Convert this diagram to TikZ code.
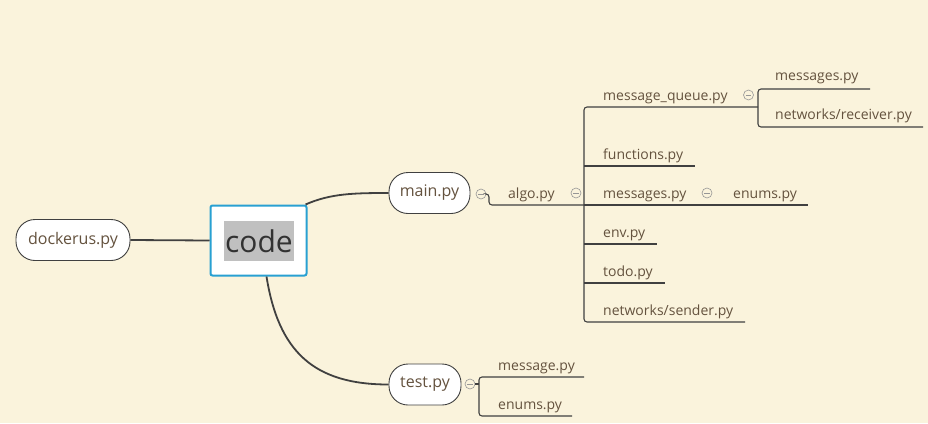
\documentclass[tikz,border=0pt]{standalone}
\usepackage{fontspec}
\setmainfont{Open Sans}
\usetikzlibrary{calc}
\definecolor{bg}{RGB}{250,243,220}
\definecolor{txt}{RGB}{100,82,62}
\definecolor{ln}{RGB}{64,64,64}
\definecolor{cblue}{RGB}{40,160,210}
\definecolor{hl}{RGB}{192,192,192}
\definecolor{cg}{RGB}{150,150,150}
\begin{document}
\begin{tikzpicture}[x=1pt,y=-1pt,
  pill/.style={draw=ln, fill=white, rounded corners=19pt, line width=0.9pt, text=txt,
    font=\fontsize{16}{19}\selectfont, minimum height=41pt, inner sep=0pt},
  lab/.style={text=txt, font=\fontsize{14}{16}\selectfont, anchor=mid west, inner sep=0pt, yshift=-2.5pt},
  br/.style={draw=ln, line width=1.1pt, rounded corners=3pt},
  conn/.style={draw=ln, line width=1.8pt},
  fold/.style={circle, draw=cg, line width=0.6pt, minimum size=10pt, inner sep=0pt,
    path picture={\draw[cg, line width=0.6pt] ($(path picture bounding box.center)+(-2.8,0)$) -- ($(path picture bounding box.center)+(2.8,0)$);}}
]
\fill[bg] (0,0) rectangle (928,423);
\useasboundingbox (0,0) rectangle (928,423);

% central topic
\node[draw=cblue, fill=white, line width=2pt, rounded corners=2pt, minimum width=96pt, minimum height=70pt] (code) at (258.5,240.5) {};
\node[fill=hl, text={rgb,255:red,50;green,50;blue,50}, font=\fontsize{30}{34}\selectfont, minimum width=70pt, minimum height=40pt, inner sep=0pt] (codetext) at (259,241) {code};

% main topics
\node[pill, minimum width=114pt] (dock) at (73,240) {dockerus.py};
\node[pill, minimum width=81pt] (main) at (429.5,193) {main.py};
\node[pill, minimum width=72pt] (test) at (425,384.5) {test.py};

\draw[conn] (dock.east) -- (code.west);
\draw[conn] ($(code.north east)+(-2,0)$) .. controls +(25,-11) and +(-35,0) .. (main.west);
\draw[conn] ($(code.south)+(8,0)$) .. controls +(12,75) and +(-75,0) .. (test.west);

% main.py subtree
\node[fold] (fmain) at (481,194) {};
\node[lab] (algo) at (508,193) {algo.py};
\node[fold] (falgo) at (576,193) {};
\coordinate (algoend) at (584,205);
\draw[br] (fmain.east) -- (489,194) -- (489,205) -- (algoend);

\node[lab] (mq) at (603,95) {message\_queue.py};
\node[lab] (func) at (603,154) {functions.py};
\node[lab] (msgs) at (603,193) {messages.py};
\node[lab] (env) at (603,232) {env.py};
\node[lab] (todo) at (603,271) {todo.py};
\node[lab] (send) at (603,310) {networks/sender.py};

\coordinate (mqend) at (758,107);
\coordinate (sendend) at (745,322);
\draw[br] (mqend) -- (584,107) -- (584,322) -- (sendend);
\draw[br] (584,166) -- (695,166);
\draw[br] (584,205) -- (808,205);
\draw[br] (584,244) -- (657,244);
\draw[br] (584,283) -- (665,283);

\node[fold] (fmq) at (748.5,95) {};
\node[lab] (msgs2) at (775,75) {messages.py};
\node[lab] (recv) at (775,114) {networks/receiver.py};
\draw[br] (870,89) -- (758,89) -- (758,127) -- (923,127);

\node[fold] (fmsgs) at (707,193) {};
\node[lab] (enums) at (733,193) {enums.py};

% test.py subtree
\node[fold] (ftest) at (470,384) {};
\draw[br] (ftest.east) -- (479,384);
\node[lab] (msg) at (498,365) {message.py};
\node[lab] (enums2) at (498,404) {enums.py};
\draw[br] (584,377) -- (479,377) -- (479,416) -- (572,416);
\end{tikzpicture}
\end{document}
